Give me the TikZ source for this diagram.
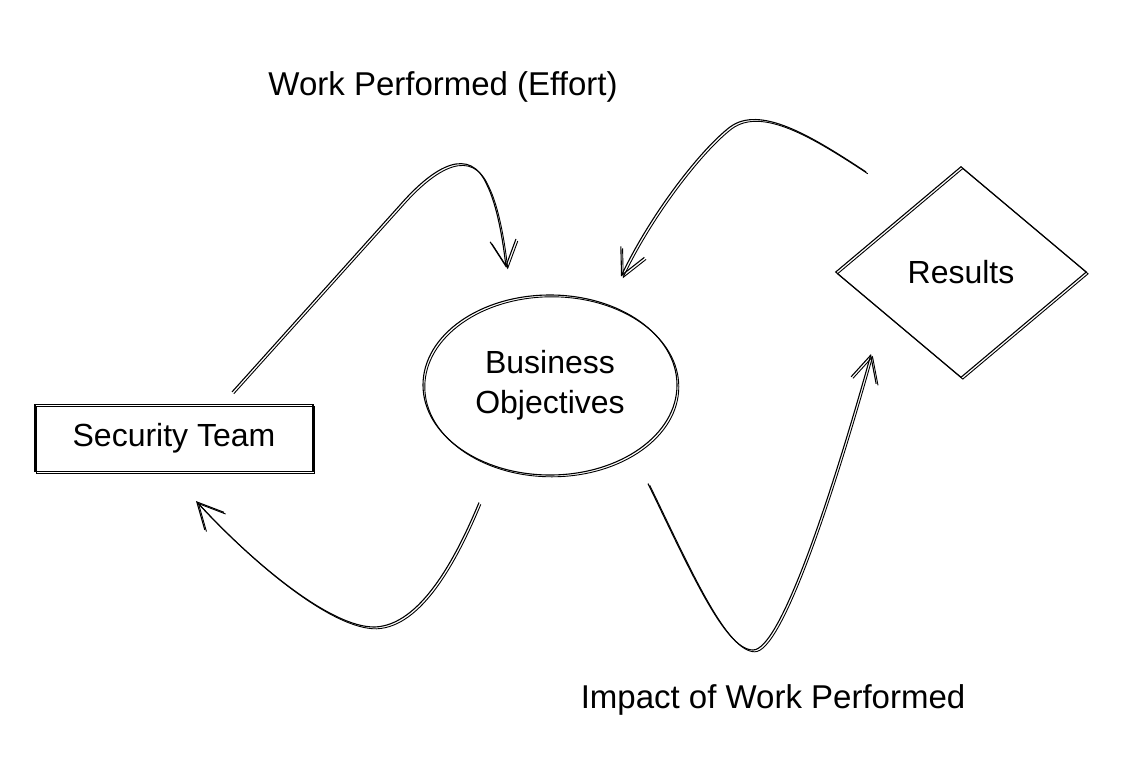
\documentclass[tikz,border=0pt]{standalone}
\usepackage{fontspec}
\setmainfont{Liberation Sans}
\usetikzlibrary{shapes.geometric,arrows.meta}

\tikzset{
  sketch/.style={line width=1.1pt, preaction={draw, line width=0.9pt, transform canvas={shift={(1.8pt,-1.8pt)}}}},
  handtext/.style={font=\fontsize{32}{40}\selectfont, align=center},
  shapebox/.style={draw, sketch, inner sep=0pt, handtext},
  flow/.style={sketch, -{Straight Barb[length=26pt,width=26pt]}},
}

\begin{document}
\begin{tikzpicture}[x=1pt,y=-1pt]
\useasboundingbox (0,0) rectangle (1138,763);

% --- Shapes ---
\node[shapebox, rectangle, minimum width=278pt, minimum height=67pt] (team) at (174,438) {Security Team};
\node[shapebox, ellipse, minimum width=254pt, minimum height=180pt] (goals) at (550,385) {Business\\Objectives};
\node[shapebox, diamond, minimum width=251pt, minimum height=211pt] (results) at (961,272) {Results};

% --- Labels ---
\node[handtext, font=\fontsize{33}{40}\selectfont] (effort) at (443,87) {Work Performed (Effort)};
\node[handtext, font=\fontsize{33}{40}\selectfont] (impact) at (773,700) {Impact of Work Performed};

% --- Arrows ---
\draw[flow] ([shift={(58,-12)}]team.north) -- (400,205)
  .. controls (435,165) and (470,146) .. (487,185)
  .. controls (497,205) and (503,240) .. ([shift={(-44,-27)}]goals.north);
\draw[flow] ([shift={(-95,6)}]results.north)
  .. controls (810,135) and (760,105) .. (730,127)
  .. controls (700,150) and (650,215) .. ([shift={(71,-18)}]goals.north);
\draw[flow] ([shift={(-71,27)}]goals.south)
  .. controls (455,560) and (420,625) .. (375,627)
  .. controls (330,628) and (250,560) .. ([shift={(22,29)}]team.south);
\draw[flow] ([shift={(98,8)}]goals.south)
  .. controls (690,570) and (725,650) .. (753,650)
  .. controls (780,650) and (830,500) .. ([shift={(-90,-24)}]results.south);

\end{tikzpicture}
\end{document}
